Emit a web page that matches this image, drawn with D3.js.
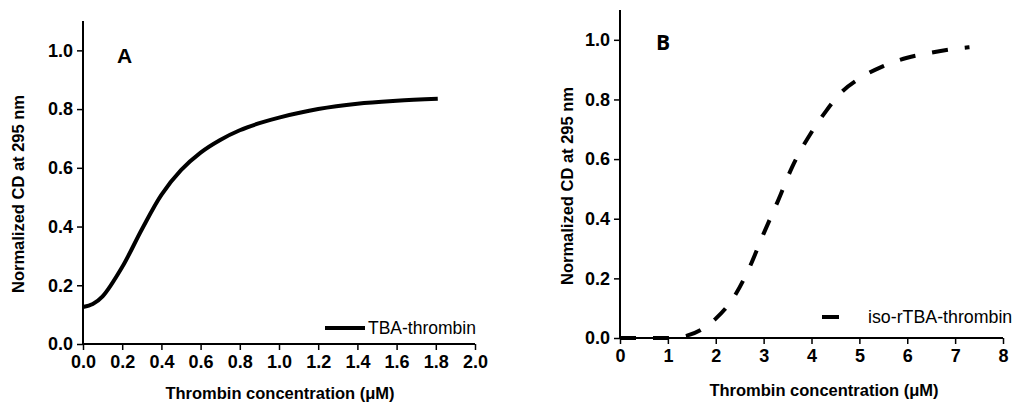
<!DOCTYPE html>
<meta charset="utf-8">
<html>
<style>
  body { margin: 0; background: #fff; }
  text { font-family: "Liberation Sans", Arial, sans-serif; fill: #000; }
</style>
<body>
<div id="chartContainer"></div>
<script src="https://d3js.org/d3.v7.min.js"></script>
<script type="text/javascript">
// panel A : TBA-thrombin (solid)
var concA = [0, 0.05, 0.1, 0.2, 0.3, 0.4, 0.5, 0.6, 0.7, 0.8, 0.9, 1.0, 1.2, 1.4, 1.6, 1.81];
var cdA   = [0.126, 0.136, 0.162, 0.262, 0.39, 0.508, 0.592, 0.652, 0.695, 0.728, 0.752, 0.771, 0.80, 0.818, 0.828, 0.835];
var xTicksA = [0, 0.2, 0.4, 0.6, 0.8, 1.0, 1.2, 1.4, 1.6, 1.8, 2.0];

// panel B : iso-rTBA-thrombin (dashed)
var concB = [0, 0.5, 1.0, 1.2, 1.4, 1.7, 2.0, 2.35, 2.7, 3.0, 3.3, 3.6, 4.0, 4.3, 4.6, 5.0, 5.5, 6.0, 6.5, 7.0, 7.3];
var cdB   = [0, 0, 0, 0.003, 0.008, 0.028, 0.065, 0.13, 0.235, 0.35, 0.46, 0.575, 0.69, 0.76, 0.82, 0.87, 0.912, 0.94, 0.957, 0.97, 0.975];
var xTicksB = [0, 1, 2, 3, 4, 5, 6, 7, 8];

var yTicks = [0, 0.2, 0.4, 0.6, 0.8, 1.0];
var yMinor = [0.1, 0.3, 0.5, 0.7, 0.9];

var svg = d3.select("#chartContainer").append("svg")
  .attr("width", 1019).attr("height", 406);

function drawPanel(opt) {
  var x = d3.scaleLinear().domain(opt.xDomain).range(opt.xRange);
  var y = d3.scaleLinear().domain([0, 1.1]).range(opt.yRange);
  var g = svg.append("g");

  // x axis, minor then major
  var xa = g.append("g").attr("transform", "translate(0," + opt.yRange[0] + ")");
  xa.call(d3.axisBottom(x).tickValues(opt.xMinor).tickSize(4).tickFormat(""));
  xa.call(d3.axisBottom(x).tickValues(opt.xTicks).tickSize(6).tickPadding(5).tickFormat(opt.xFmt));
  // y axis
  var ya = g.append("g").attr("transform", "translate(" + opt.xRange[0] + ",0)");
  ya.call(d3.axisLeft(y).tickValues(yMinor).tickSize(4).tickFormat(""));
  ya.call(d3.axisLeft(y).tickValues(yTicks).tickSize(6).tickPadding(4).tickFormat(d3.format(".1f")));

  g.selectAll(".domain").attr("stroke-width", 2);
  g.selectAll(".tick line").attr("stroke-width", 1.5);
  g.selectAll(".tick text").style("font-size", "18px").style("font-weight", "bold")
    .style("font-family", "'Liberation Sans', Arial, sans-serif");
  ya.selectAll(".domain").attr("d", "M0," + opt.yRange[0] + "V" + opt.yRange[1]);
  xa.selectAll(".domain").attr("d", "M" + opt.xRange[0] + ",0H" + opt.xRange[1]);

  var pts = opt.xs.map(function (d, i) { return [d, opt.ys[i]]; });
  var line = d3.line()
    .x(function (d) { return x(d[0]); })
    .y(function (d) { return y(d[1]); })
    .curve(opt.curve);
  var path = g.append("path").datum(pts)
    .attr("d", line)
    .attr("fill", "none")
    .attr("stroke", "#000")
    .attr("stroke-width", 4);
  if (opt.dash) path.attr("stroke-dasharray", opt.dash);

  // legend
  g.append("line")
    .attr("x1", opt.legX1).attr("x2", opt.legX2)
    .attr("y1", opt.legY).attr("y2", opt.legY)
    .attr("stroke", "#000").attr("stroke-width", 4);
  g.append("text").attr("x", opt.legTx).attr("y", opt.legY + 6)
    .style("font-size", opt.legSize).text(opt.name);

  // panel letter
  g.append("text").attr("x", opt.letterX).attr("y", opt.letterY)
    .style("font-size", opt.letterSize).style("font-weight", "bold")
    .style("font-family", opt.letterFont)
    .text(opt.letter);

  // axis titles
  g.append("text")
    .attr("transform", "translate(" + opt.yTitleX + "," + opt.yTitleY + ") rotate(-90)")
    .attr("text-anchor", "middle")
    .style("font-size", "16.5px").style("font-weight", "bold")
    .text("Normalized CD at 295 nm");
  g.append("text")
    .attr("x", opt.xTitleX).attr("y", opt.xTitleY)
    .attr("text-anchor", "middle")
    .style("font-size", "16.5px").style("font-weight", "bold")
    .text("Thrombin concentration (\u03bcM)");
}

drawPanel({
  xDomain: [0, 2], xRange: [83, 475], yRange: [344, 21],
  xTicks: xTicksA, xMinor: d3.range(0.1, 2, 0.2), xFmt: d3.format(".1f"),
  xs: concA, ys: cdA, name: "TBA-thrombin", curve: d3.curveCatmullRom.alpha(0.5),
  legX1: 325, legX2: 365, legY: 328, legTx: 368, legSize: "17.5px",
  letter: "A", letterX: 117, letterY: 63, letterSize: "21px",
  letterFont: "'Liberation Sans', Arial, sans-serif",
  yTitleX: 24, yTitleY: 194, xTitleX: 280, xTitleY: 399
});

drawPanel({
  xDomain: [0, 8], xRange: [620, 1003], yRange: [338, 10],
  xTicks: xTicksB, xMinor: d3.range(0.5, 8, 1), xFmt: d3.format("d"),
  xs: concB, ys: cdB, name: "iso-rTBA-thrombin", dash: "16,17", curve: d3.curveMonotoneX,
  legX1: 822, legX2: 839, legY: 317, legTx: 868, legSize: "17.8px",
  letter: "B", letterX: 656, letterY: 50, letterSize: "21px",
  letterFont: "'Open Sans', sans-serif",
  yTitleX: 573, yTitleY: 186, xTitleX: 824, xTitleY: 396
});
</script>
</body>
</html>
